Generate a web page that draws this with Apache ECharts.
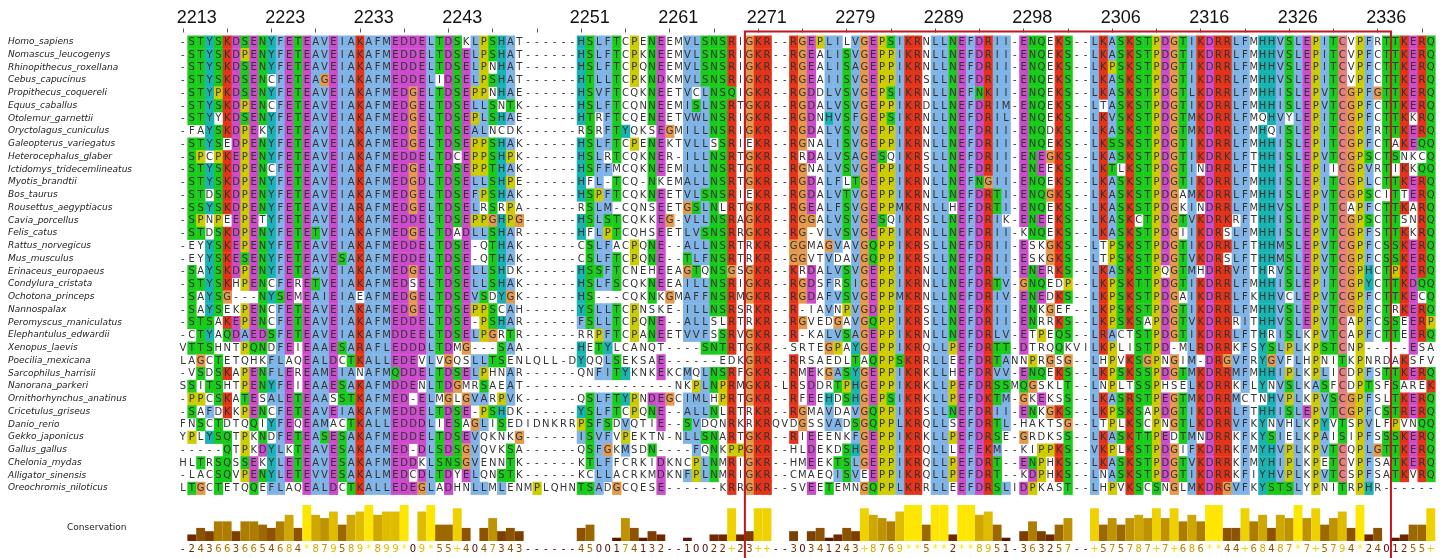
<!DOCTYPE html>
<html><head><meta charset="utf-8">
<script src="https://cdn.jsdelivr.net/npm/echarts@6/dist/echarts.min.js"></script>
<style>html,body{margin:0;padding:0;background:#fff}#c{width:1448px;height:558px}</style>
</head><body><div id="c"></div>
<script>
const species = ["Homo_sapiens","Nomascus_leucogenys","Rhinopithecus_roxellana","Cebus_capucinus","Propithecus_coquereli","Equus_caballus","Otolemur_garnettii","Oryctolagus_cuniculus","Galeopterus_variegatus","Heterocephalus_glaber","Ictidomys_tridecemlineatus","Myotis_brandtii","Bos_taurus","Rousettus_aegyptiacus","Cavia_porcellus","Felis_catus","Rattus_norvegicus","Mus_musculus","Erinaceus_europaeus","Condylura_cristata","Ochotona_princeps","Nannospalax","Peromyscus_maniculatus","Elephantulus_edwardii","Xenopus_laevis","Poecilia_mexicana","Sarcophilus_harrisii","Nanorana_parkeri","Ornithorhynchus_anatinus","Cricetulus_griseus","Danio_rerio","Gekko_japonicus","Gallus_gallus","Chelonia_mydas","Alligator_sinensis","Oreochromis_niloticus"];

// alignment columns 0-35
const segA = ["-STYSKDSENYFETEAVEIAKAFMEDDELTDSKLPS","-STYSKDPENYFETEAVEIAKAFMEDDELTDSELPS","-STYSKDSENYFETEAVEIAKAFMEDDELTDSELPN","-STYSKDSENCFETEAGEIAKAFMEDDELIDSELPS","-STYPKDSENYFETEAVEIAKAFMEDGELTDSEPPN","-STYSKDPENCFETEAVEIAKAFMEDGELTDSELLS","-STYYKDSENYFETEAVEIAKAFMEDGELTDSEPLS","-FAYSKDPEKYFETEAVEIAKAFMEDGELTDSEALN","-STYSEDPENYFETEAVEIAKAFMEDGELTDSEPPS","-SPCPKEPENYFETEAVEIAKAFMEDDELTDCEPPS","-STYSKDPENCFETEAVEIAKAFMEDGELTDSEPPT","-STYSKDPENYFETEAVEIAKAFMEDGDLTDSELLS","-STDSKDPENYFETEAVEIAKAFMEDGELTDSEFPS","-SSYSKDPENYFETEAVEIARAFMEDGELTDSELRS","-SPNPEEPETYFETEAVEIAKAFMEDDELTDSEPPG","-STDSKDPENYFETETVEIAKAFMEDGELTDADLLS","-EYYSKEPENYFETEAVEIAKAFMEDDELTDSE-QT","-EYYSKESENYFETEAVESAKAFMEDDELTDSE-QT","-SAYSKDPENYFETEAVEIAKAFMEDGELTDSELLS","-STYSKHPENCFERETVEIAKAFMEDSELTDSELLS","-SAYSG---NYSEMEAIEIAEAFMEDGELTDSEVSD","-SAYSEKPENCFETEAVEIAKAFMEDGELTDSEPPS","-STSAKEPENCFETEAVEIAKAFMEDDELTDSE-PS","-CTYAQDAEDSFETEAVEIAKAFMDDEELTDSELPG","VTTSHNTPQNDFEIEAAESARAFLEDDDLTDMG---","LAGCTETQHKFLAQEALDCTKALLEDEVLVGQSLLT","-VSDSKAPENFLEREAMEIANAFMQDDELTDSELPH","SSITSHTPENYFEIEAAESAKAFMDDENLTDGMRSA","-PPCSKATESALETEAASSTKAFMED-ELMGLGVAR","-SAFDKKPENCFETEAVEIAKAFMEDDELTDSE-PS","FNSCTDTQQIYFEQEAMACTKALLEDDDLIESAGLI","YPLYSQTPKNDFETEASESAKAFMEDDELTDSEVQK","-----QTPKDYLKTEAVESAKAFMED-DLSDSGVQV","HLTRSQSSEKYLETEAVESAKAFMEDDKLSNSGVEN","-LACSQVPENYLETEVVESAKALMEDCDLTDYELQN","LTGCTETQQEFLAQEALDCTKALLEDEGLADHNLLM"];
// columns 35-70
const segB = ["SHAT------HSLFTCPENEEMVLSNSRIGKR--RG","SHAT------HSLFTCPKNEEMVLSNSRIGKR--RG","NHAT------HSLFTCPQNEEMVLSNSRIGKR--RG","SHAT------HTLLTCPKNDKMVLSNSRIGKR--RG","NHAE------HSVFTCQKNEETVCLNSQIGKR--RG","SNTK------HSLFTCQNNEEMISLNSRTGKR--RG","SHAE------HTRFTCQENEETVWLNSRIGKR--RG","NCDK------RSRFTYQKSEGMILLNSRIGKR--RG","SHAK------HSLFTCPENEKTVLLSSRIEKR--RG","SHPK------HSLRTCQKNER-ILLNSRTGKR--RR","THAK------HSFFMCQKNEEMILLNSRTGKR--RG","SHPE------HFL-TCQ-NKEMALLNSRTGKR--RG","SHAK------HSPFTCQKNEETVLSNSRIEKR--RG","SRPA------RSLM-CQNSEETGSLNLRTGKR--RG","GHPG------HSLSTCQKKEG-VLLNSRAGKR--RG","SHAR------HFLPTCQHSEETLVSNSRRGKR--RG","THAK------CSLFACPQNE--ALLNSRTRKR--GG","THAK------CSLFTCPQNE--TLFNSRTRKR--GG","SHDK------HSSFTCNEHEEAGTQNSGSGKR--KR","SHAK------HSLFSCQKNEEAILLNSRIGKR--RG","DYGK------HS---CQKNKGMAFFNSRMGKR--RG","SCAH------YSLLTCPNSKE-ILLNSRSRKR--R-","SHAR------FSLLTCPQNE--ALLSLRTRKR--RG","GRTR------RRPFTCPANEETVVFSSRVGKR--R-","-SAA------HETYLCANQT----SNTRTGKR--SR","TSENLQLL-DYQQLSEKSAE------EDKGRK--RR","HNAR------QNFITYKNKEKCMQLNSRFGKR--RM","AEAT-----------------NKPLNPRMGKR-LRS","RPVK------QSLFTYPNDEGCIMLHPRTGKR--RF","SHDK------YSLFTCPQNE--ALLNLRTRKR--RG","ISEDIDNKRRPSFSDVQTIE--SVDQNRKRKRQVDG","KNKG------ISVFVPEKTN-NLLSNARTGKR--RI","VKSA------QSFGKMSDN----FQNKPPGKR--HL","NNTK------KTLFFCRKIDKNCPLNMRIGKR--HM","NSTK------KCLLACRKMDKNFPLNMRIGKR--CM","MLENMPLQHNTSADGCQESE------KRRGKR--SV"];
// columns 70-106
const segC = ["GEPLILVGEPSIKRNLLNEFDRII-ENQEKS--LKAS","GEALISVGEPPIKRNLLNEFDRII-ENQEKS--LKAS","GEALISAGEPPIKRNLLNEFDRII-ENQEKS--LKPS","GEAIISVGEPPIKRSLLNEFDRII-ENQEKS--LKAS","GDDLVSVGEPSIKRNLLNEFNKII-ENQEKS--LKAS","GDALVSVGEPPIKRDLLNEFDRIM-ENQEKS--LTAS","GDNHVSFGEPSIKRNLLNEFDRIL-ENQEKS--LKVS","GDALVSVGEPPIKRNLLNEFDRII-ENQDKS--LKAS","GNALISVGEPPIKRNLLNEFDRII-ENQEKS--LKSS","RDALVSAGESQIKRSLLNEFDRII-ENEGKS--LKAS","GNALVSVGEPPIKRSLLNEFDRII-ENEEKS--LKTL","GDALFLTGEPPIKRNLLNEFNGII-ENQEKS--LKAS","GDALVTVGEPPIKRNLLNEFDRTI-ENQGKS--LKAS","GEALFSVGEPPMKRNLLHEFDRTI-ENQEKS--LKAS","GGALVSVGESQIKRSLLNEFDRIK-ENEEKS--LKAS","G-VLVSVGEPPIKRNLLNEFDRII-KNQEKS--LKAS","GMAGVAVGQPPIKRSLLNEFDRII-ESKGKS--LTPS","GVTVDAVGQPPIKRSLLNEFDRII-ESKGKS--LTPS","RDALVSVGEPPIKRNLLNEFDRII-ENERKS--LKAS","GDSFRSIGEPPIKRNLLNEFDRTV-GNQEDP--LKPS","GDAFVSVGEPPMKRNLLNEFDRIV-ENEDKS--LKPS","-IAVNPVGDPPIKRSLLNEFDKII-ENKGEF--LKPS","GVEDGAVGQPPIKRSLLNEFDRII-ENRRKS--LKPS","-KALVSAGEPPIKRNLLNEFDRLV-ETPEQS--LRAC","RTEGPAYGEPPIKRQLLPEFDRTT-DTRQQKVILKPL","RSAEDLTAQPPSKRRLLEEFDRTANNPRGSG--LHPV","MEKGASYGEPPIKRKLLHEFDRVV-ENQEKS--LKPS","SDDRTPHGEPPIKRKLLPEFDRSSMQGSKLT--LNPL","FEEHDSHGEPSIKRKLLPEFDKTM-GKEKSS--LKAS","GMAVDAVGQPPIKRSLLNEFDRII-ENKGKS--LKPS","GSSVADSGQPPLKRQLLSEFDRTL-HAKTSG--LTPL","IEEENKFGEPPIKRKLLPEFDRSE-GRDKSS--LKAS","LDEKDSHGEPPIKRQLLLEFEKM--KIPPKS--VKPL","MEEKTSLGEPPIKRQLLPEFDRT--ENPHKS--LKAS","MAEQISVEEPPIKRQLLPEFDRT--KDPHKS--LNAS","VEETEMNGQPPLKRRLLEEFDRSLIDPKAST--LHPV"];
// columns 106-141
const segD = ["SKSTPDGTIKDRRLFMHHVSLEPITCVPFRTTKERQ","SKSTPDGTIKDRRLFMHHVSLEPITCVPFCTTKERQ","SKSTPDGTIKDRRLFMHHVSLEPITCVPFCTTKERQ","SKSTPDGTIKDRRLFMHHVSLEPITCVPFCTTKERQ","SKSTPDGTLKDRRLFMHHISLEPVTCGPFGTTKERQ","SKSTPDGTIKDRRLFMHHISLEPVTCGPFCTTKERQ","SKSTPDGTMKDRRLFMQHVYLEPITCGPFCTTKKRQ","SKSTPDGTMKDRRLFMHQISLEPITCGPFRTTKERQ","SKSTPDGTIKDRRLFMHHISLEPITCGPFCTAKEQQ","SKSTPDGTIKDRKLFTHHISLEPVTCGPSCTSNKCQ","LKSTPDGTINDRRLFTHHISLEPIICGPVRTIKKQQ","SKSTPDGTIKDRRLFMHHISLEPITCGPLCTTKERQ","SKSTPDGAMKDRRLFMHHISLEPVTCGPSCITTERQ","SKSTPDGKINDRRLFMHHVSLEPITCAPFCTTKARQ","SKCTPDGTVKDRKRFTHHISLEPVTCGPSCTTSNRQ","SKSTPDGIIKDRSLFMHHISLEPVTCGPFSTTKKRQ","SKSTPDGTIKDRRLFTHHMSLEPVTCGPFCSSKERQ","SKSTPDGTVKDRSLFTHHMSLEPVTCGPFCSSKERQ","SKSTPQGTMHDRRVFTHRVSLEPVTCGPHCTPKERQ","SKTTPDGTIKDRRLFMHHISLEPITCGPYCTTKDQQ","SKSTPDGAIKDRRLFKHHVCLEPVTCGPFCTTKECQ","SKSTPDGTIKDRRLFMHHVSLEPVTCGPFCTRKERQ","SKSAPDGTVKDRRRITHHVSLEPVTCAPFCSSEERP","CTSTPDGTIKDRRLFTHRISLKPVTCAPFCTTEERQ","LISTPD-MLRDRRKFSYSLPLKPSTCNP-----ESA","VKSGPNGIM-DRGVFRYGVFLHPNITKPNRDAKSFV","SKSSPDGTMKDRRMFMHHIPLKPLICDPFSTTKERQ","LTSSPHSELKDRRKFLYNVSLKASFCDPTSFSAREK","SRSTPEGTMKDRRMCTNHVPLKPVSCGPFSLTKERQ","SKSAPDGTIKDRRLFTHHISLEPVTCGPFCSTRERQ","LKSCPNGTLKDRRVFKYNVHLKPYVTSPVLFPVNQQ","SKTTPEDTMNDRRKFKYSIELKPAISIPFSSSKERQ","LKSTPDGIFKDRRKFMYHVPLKPVTCQPLGTTKERQ","SKSTPDGTVKDRRKFMYHIPLKPETCVPFSATKERQ","SKSTPDGTIKDRRKFIYHVPLKPVTCSPFSATKVRQ","VKSCSNGLMKDRGVFKYSTSLYPNITRPHR------"];

const conservation = "-2436636654684*879589*899*09*55+4047343------4500174132--1002" +
                     "2+23++--30341243+8769**5**2**8951-363257--+575787+7+686**44+68487*7+5794*2401255+";
const rulerCols = [1,11,21,31,45,55,65,75,85,95,105,115,125,135];
const rulerLabels = ["2213","2223","2233","2243","2251","2261","2271","2279","2289","2298","2306","2316","2326","2336"];
const boxCols = [64,136];

const seqs = species.map((_, i) => segA[i] + segB[i].slice(1) + segC[i].slice(1) + segD[i].slice(1));
const nR = seqs.length, nC = seqs[0].length;

// ClustalX colour scheme (Jalview style)
const COL = {red:'rgb(229,51,25)', blue:'rgb(128,179,230)', green:'rgb(25,204,25)', orange:'rgb(229,153,76)',
  cyan:'rgb(25,179,179)', pink:'rgb(229,128,128)', magenta:'rgb(204,76,204)', yellow:'rgb(204,204,0)'};
const HYD = 'WLVIMAFCYHP';
function columnColours(c) {
  const cnt = {};
  for (const s of seqs) cnt[s[c]] = (cnt[s[c]] || 0) + 1;
  const gt = (set, th) => { let t = 0; for (const ch of set) t += cnt[ch] || 0; return t * 100 > th * nR; };
  const any85 = set => [...set].some(ch => gt(ch, 85));
  const hyd = gt(HYD, 60) || any85('ACFHILMVWYP') || gt('P', 50);
  const arom = gt(HYD, 60) || any85('WYACPQFHILMV') || gt('P', 50);
  const pos = gt('KR', 60) || any85('KRQ');
  const eNeg = gt('ED', 50) || any85('DE') || gt('QE', 50) || gt('Q', 85);
  const dNeg = gt('ED', 50) || any85('DE') || gt('N', 50);
  const nPol = gt('N', 50) || any85('ND');
  const qPol = gt('QE', 50) || any85('QEKR') || gt('KR', 60);
  const stPol = gt('TS', 50) || any85('ST') || gt(HYD, 60);
  const cPink = gt('C', 85);
  return ch => {
    switch (ch) {
      case 'A': case 'I': case 'L': case 'M': case 'F': case 'W': case 'V': return hyd ? COL.blue : null;
      case 'C': return cPink ? COL.pink : null;
      case 'H': case 'Y': return arom ? COL.cyan : null;
      case 'K': case 'R': return pos ? COL.red : null;
      case 'E': return eNeg ? COL.magenta : null;
      case 'D': return dNeg ? COL.magenta : null;
      case 'N': return nPol ? COL.green : null;
      case 'Q': return qPol ? COL.green : null;
      case 'S': case 'T': return stPol ? COL.green : null;
      case 'G': return COL.orange;
      case 'P': return COL.yellow;
      default: return null;
    }
  };
}
const colFns = Array.from({length: nC}, (_, c) => columnColours(c));
const cells = [];
for (let r = 0; r < nR; r++) for (let c = 0; c < nC; c++) cells.push([c, r]);

function consValue(ch) { return ch === '*' ? 11 : ch === '+' ? 10 : ch === '-' ? 0 : +ch; }
function consColour(v) {
  const p = v / 11;
  return 'rgb(' + Math.round(255 * (0.3 + 0.7 * p)) + ',' + Math.round(255 * 0.9 * p) + ',0)';
}
const consVals = conservation.split('').map(consValue);
const colIdx = Array.from({length: nC}, (_, i) => i);

const chart = echarts.init(document.getElementById('c'), null, {renderer: 'canvas'});
const cw = 8.85, gl = 178.5;
const numStyle = (pad) => ({fontSize: 18, fontFamily: 'Liberation Sans', color: '#111', padding: [0, 0, 0, pad]});
chart.setOption({
  animation: false,
  backgroundColor: '#fff',
  grid: [
    {left: gl, top: 35.5, width: cw * nC, height: 12.75 * nR},
    {left: gl, top: 505, width: cw * nC, height: 36}
  ],
  xAxis: [
    {type: 'category', gridIndex: 0, data: colIdx, show: false},
    {type: 'category', gridIndex: 0, data: colIdx, position: 'top', offset: 3,
      axisLine: {show: false},
      axisTick: {show: true, alignWithLabel: true, interval: (i) => i % 5 === 0, length: 4,
        lineStyle: {color: '#555', width: 1}},
      axisLabel: {interval: (i) => rulerCols.includes(i), margin: 5,
        formatter: (v, i) => { const k = rulerCols.indexOf(i); return k < 0 ? '' : (k < 4 ? '{e|' : '{l|') + rulerLabels[k] + '}'; },
        rich: {e: numStyle(10), l: numStyle(17)}}},
    {type: 'category', gridIndex: 1, data: colIdx, axisLine: {show: false}, axisTick: {show: false},
      axisLabel: {interval: 0, margin: 3, formatter: (v, i) => conservation[i],
        fontSize: 10, fontFamily: 'DejaVu Sans', color: (v, i) => consColour(consVals[i])}}
  ],
  yAxis: [
    {type: 'category', gridIndex: 0, data: species, inverse: true,
      axisLine: {show: false}, axisTick: {show: false},
      axisLabel: {interval: 0, align: 'left', margin: gl - 8, fontSize: 9, fontStyle: 'italic',
        fontFamily: 'DejaVu Sans', color: '#222'}},
    {type: 'value', gridIndex: 1, min: 0, max: 11, show: false}
  ],
  series: [
    {type: 'custom', xAxisIndex: 0, yAxisIndex: 0, data: cells, encode: {x: 0, y: 1},
      progressive: 0, animation: false,
      renderItem: (params, api) => {
        const c = api.value(0), r = api.value(1);
        const p = api.coord([c, r]), sz = api.size([1, 1]);
        const ch = seqs[r][c];
        const fill = colFns[c](ch);
        const children = [];
        if (fill) children.push({type: 'rect', shape: {x: p[0] - sz[0] / 2, y: p[1] - sz[1] / 2, width: sz[0] + 0.4, height: sz[1] + 0.4}, style: {fill: fill}});
        children.push({type: 'text', style: {text: ch, x: p[0], y: p[1] + 0.5, textAlign: 'center', textVerticalAlign: 'middle',
          font: '10px "DejaVu Sans"', fill: '#333'}});
        return {type: 'group', children: children};
      }},
    {type: 'bar', xAxisIndex: 2, yAxisIndex: 1, barWidth: '100%', barGap: 0,
      data: consVals.map(v => ({value: v, itemStyle: {color: consColour(v)}}))}
  ]
});
// red frame around columns boxCols and the "Conservation" label, positioned from the axes
const x1 = chart.convertToPixel({xAxisIndex: 0}, boxCols[0]) - cw / 2;
const x2 = chart.convertToPixel({xAxisIndex: 0}, boxCols[1]) + cw / 2;
const yMid = chart.convertToPixel({yAxisIndex: 1}, 4);
chart.setOption({graphic: [
  {type: 'rect', shape: {x: x1, y: 31.5, width: x2 - x1, height: 560 - 31.5},
    style: {fill: 'none', stroke: '#c8141e', lineWidth: 2}, z: 100},
  {type: 'text', x: gl - 52, y: yMid, style: {text: 'Conservation', textAlign: 'right', textVerticalAlign: 'middle',
    font: '9px "DejaVu Sans"', fill: '#222'}}
]});
</script></body></html>
